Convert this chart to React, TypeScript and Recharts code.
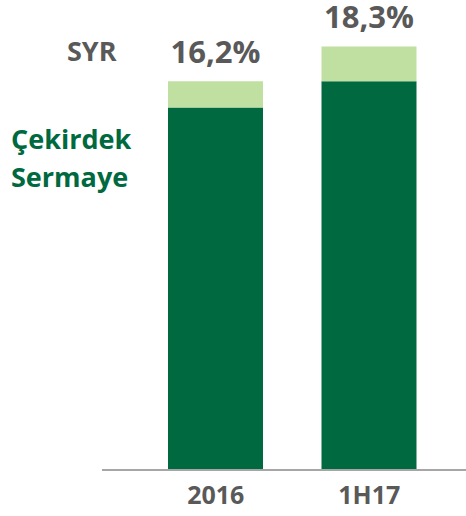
import React from "react";
import { BarChart, Bar, XAxis, YAxis, LabelList } from "recharts";

const categories = ["2016", "1H17"];
const coreValues = [15.1, 16.2];
const bufferValues = [1.1, 1.45];
const totalLabels = ["16,2%", "18,3%"];

const legendTop = "SYR";
const legendCore = ["Çekirdek", "Sermaye"];

const data = categories.map((c, i) => ({
  name: c,
  core: coreValues[i],
  buffer: bufferValues[i],
  label: totalLabels[i],
}));

const FONT = "'Open Sans', sans-serif";

export default function App() {
  return (
    <div style={{ position: "absolute", left: 0, top: 0, width: 466, height: 516 }}>
      <BarChart
        width={466}
        height={516}
        data={data}
        margin={{ top: 14, right: 0, bottom: 0, left: 102 }}
        barCategoryGap={0}
      >
        <YAxis hide domain={[0, 19]} />
        <XAxis
          dataKey="name"
          height={46}
          padding={{ left: 37, right: 20 }}
          axisLine={{ stroke: "#A6A6A6", strokeWidth: 2 }}
          tickLine={false}
          tickMargin={10}
          tick={{ fill: "#595959", fontSize: 25, fontWeight: 700, fontFamily: FONT }}
        />
        <Bar dataKey="core" stackId="a" fill="#006940" barSize={95} isAnimationActive={false} />
        <Bar dataKey="buffer" stackId="a" fill="#C0E0A2" barSize={95} isAnimationActive={false}>
          <LabelList
            dataKey="label"
            position="top"
            offset={18}
            fill="#595959"
            fontSize={31}
            fontWeight={700}
            fontFamily={FONT}
          />
        </Bar>
      </BarChart>
      <div
        style={{
          position: "absolute",
          left: 67,
          top: 32,
          fontFamily: FONT,
          fontWeight: 700,
          fontSize: 27,
          color: "#595959",
          lineHeight: "37px",
        }}
      >
        {legendTop}
      </div>
      <div
        style={{
          position: "absolute",
          left: 11,
          top: 120,
          fontFamily: FONT,
          fontWeight: 700,
          fontSize: 27,
          color: "#006940",
          lineHeight: "38px",
        }}
      >
        {legendCore.map((t) => (
          <div key={t}>{t}</div>
        ))}
      </div>
    </div>
  );
}
